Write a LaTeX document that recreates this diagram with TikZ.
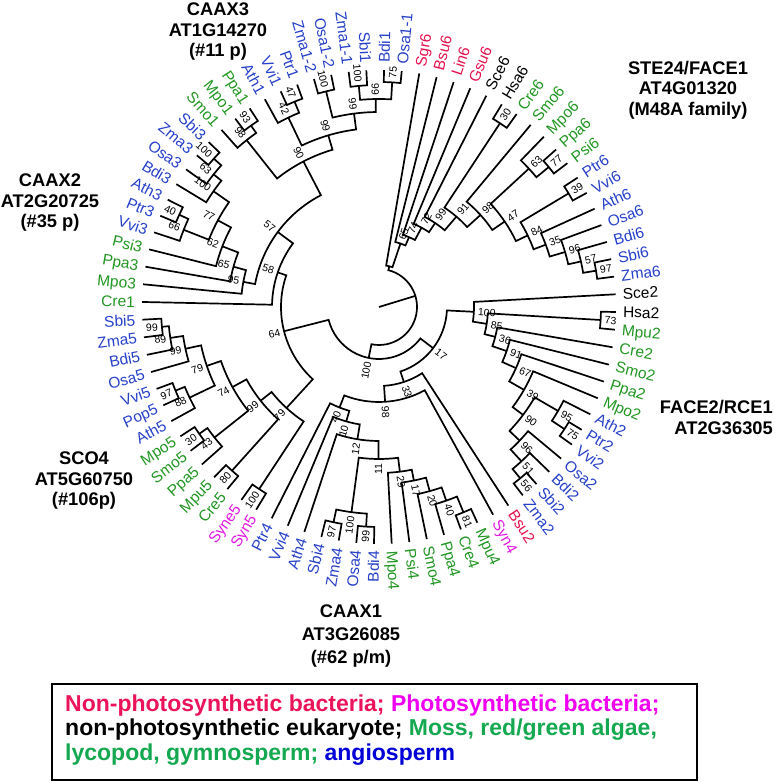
\documentclass[tikz,border=0pt]{standalone}
\usepackage{fontspec}
\setmainfont{Liberation Sans}
\definecolor{lb}{RGB}{38,64,200}
\definecolor{lg}{RGB}{34,150,34}
\definecolor{lr}{RGB}{228,18,78}
\definecolor{lm}{RGB}{225,25,225}
\definecolor{gred}{RGB}{235,20,90}
\definecolor{gmag}{RGB}{240,0,240}
\definecolor{ggreen}{RGB}{20,168,80}
\definecolor{gblue}{RGB}{0,0,215}

\newcommand\mysetang[2]{\pgfmathsetmacro\mytmp{#2}\expandafter\xdef\csname myA@#1\endcsname{\mytmp}}
\newcommand\myang[1]{\csname myA@#1\endcsname}
\newcommand\mysetrad[2]{\expandafter\xdef\csname myR@#1\endcsname{#2}}
\newcommand\myrad[1]{\csname myR@#1\endcsname}

\newcommand\myradlabel[5]{%
  \pgfmathsetmacro\mla{#2}%
  \pgfmathsetmacro\mlm{mod(\mla,360)}%
  \pgfmathsetmacro\mlr{\mla+180}%
  \def\mlside{R}%
  \ifdim\mlm pt>90pt\relax\ifdim\mlm pt<270pt\relax\def\mlside{L}\fi\fi
  \if L\mlside
    \node[#4,anchor=east,rotate=\mlr] (#1) at (\mla:#3pt) {#5};%
  \else
    \node[#4,anchor=west,rotate=\mla] (#1) at (\mla:#3pt) {#5};%
  \fi}

\newcommand\myleaf[3]{%
  \mysetang{#2}{84.5+(#1-1)*4.2857143}%
  \mysetrad{#2}{237}%
  \myradlabel{#2}{\myang{#2}}{244}{leaf,text=#3}{#2}}

\newcommand\mytnode[4]{%
  \pgfmathsetmacro\tnA{\myang{#3}}%
  \pgfmathsetmacro\tnB{\myang{#4}}%
  \edef\tnRa{\myrad{#3}}\edef\tnRb{\myrad{#4}}%
  \draw[br] (\tnA:\tnRa pt) -- (\tnA:#2pt) arc[start angle=\tnA, end angle=\tnB, radius=#2pt] -- (\tnB:\tnRb pt);
  \mysetang{#1}{(\tnA+\tnB)/2}\mysetrad{#1}{#2}}

\newcommand\mybs[2]{%
  \pgfmathsetmacro\bsr{\myrad{#1}+4}%
  \myradlabel{bs-#1}{\myang{#1}}{\bsr}{bsl}{#2}}

\tikzset{
  br/.style={line width=1.7pt, line join=miter, line cap=butt},
  leaf/.style={inner sep=0pt, font=\fontsize{15.5}{16}\selectfont, text height=11pt, text depth=0pt},
  bsl/.style={inner sep=0pt, font=\fontsize{10.5}{11}\selectfont, text height=7.5pt, text depth=0pt},
  ttl/.style={inner sep=0pt, align=center, font=\bfseries\fontsize{18.3}{20.5}\selectfont}
}

\begin{document}
\begin{tikzpicture}
\useasboundingbox (0pt,0pt) rectangle (774pt,783pt);
\begin{scope}[shift={(379pt,476pt)}]
% leaves
\myleaf{1}{Osa1-1}{lb}
\myleaf{2}{Bdi1}{lb}
\myleaf{3}{Sbi1}{lb}
\myleaf{4}{Zma1-1}{lb}
\myleaf{5}{Osa1-2}{lb}
\myleaf{6}{Zma1-2}{lb}
\myleaf{7}{Ptr1}{lb}
\myleaf{8}{Vvi1}{lb}
\myleaf{9}{Ath1}{lb}
\myleaf{10}{Ppa1}{lg}
\myleaf{11}{Mpo1}{lg}
\myleaf{12}{Smo1}{lg}
\myleaf{13}{Sbi3}{lb}
\myleaf{14}{Zma3}{lb}
\myleaf{15}{Osa3}{lb}
\myleaf{16}{Bdi3}{lb}
\myleaf{17}{Ath3}{lb}
\myleaf{18}{Ptr3}{lb}
\myleaf{19}{Vvi3}{lb}
\myleaf{20}{Psi3}{lg}
\myleaf{21}{Ppa3}{lg}
\myleaf{22}{Mpo3}{lg}
\myleaf{23}{Cre1}{lg}
\myleaf{24}{Sbi5}{lb}
\myleaf{25}{Zma5}{lb}
\myleaf{26}{Bdi5}{lb}
\myleaf{27}{Osa5}{lb}
\myleaf{28}{Vvi5}{lb}
\myleaf{29}{Pop5}{lb}
\myleaf{30}{Ath5}{lb}
\myleaf{31}{Mpo5}{lg}
\myleaf{32}{Smo5}{lg}
\myleaf{33}{Ppa5}{lg}
\myleaf{34}{Mpu5}{lg}
\myleaf{35}{Cre5}{lg}
\myleaf{36}{Syne5}{lm}
\myleaf{37}{Syn5}{lm}
\myleaf{38}{Ptr4}{lb}
\myleaf{39}{Vvi4}{lb}
\myleaf{40}{Ath4}{lb}
\myleaf{41}{Sbi4}{lb}
\myleaf{42}{Zma4}{lb}
\myleaf{43}{Osa4}{lb}
\myleaf{44}{Bdi4}{lb}
\myleaf{45}{Mpo4}{lg}
\myleaf{46}{Psi4}{lg}
\myleaf{47}{Smo4}{lg}
\myleaf{48}{Ppa4}{lg}
\myleaf{49}{Cre4}{lg}
\myleaf{50}{Mpu4}{lg}
\myleaf{51}{Syn4}{lm}
\myleaf{52}{Bsu2}{lr}
\myleaf{53}{Zma2}{lb}
\myleaf{54}{Sbi2}{lb}
\myleaf{55}{Bdi2}{lb}
\myleaf{56}{Osa2}{lb}
\myleaf{57}{Vvi2}{lb}
\myleaf{58}{Ptr2}{lb}
\myleaf{59}{Ath2}{lb}
\myleaf{60}{Mpo2}{lg}
\myleaf{61}{Ppa2}{lg}
\myleaf{62}{Smo2}{lg}
\myleaf{63}{Cre2}{lg}
\myleaf{64}{Mpu2}{lg}
\myleaf{65}{Hsa2}{black}
\myleaf{66}{Sce2}{black}
\myleaf{67}{Zma6}{lb}
\myleaf{68}{Sbi6}{lb}
\myleaf{69}{Bdi6}{lb}
\myleaf{70}{Osa6}{lb}
\myleaf{71}{Ath6}{lb}
\myleaf{72}{Vvi6}{lb}
\myleaf{73}{Ptr6}{lb}
\myleaf{74}{Psi6}{lg}
\myleaf{75}{Ppa6}{lg}
\myleaf{76}{Mpo6}{lg}
\myleaf{77}{Smo6}{lg}
\myleaf{78}{Cre6}{lg}
\myleaf{79}{Hsa6}{black}
\myleaf{80}{Sce6}{black}
\myleaf{81}{Gsu6}{lr}
\myleaf{82}{Lin6}{lr}
\myleaf{83}{Bsu6}{lr}
\myleaf{84}{Sgr6}{lr}
% CAAX3
\mytnode{n75a}{225}{Bdi1}{Osa1-1}\mybs{n75a}{75}
\mytnode{n100a}{222}{Sbi1}{Zma1-1}\mybs{n100a}{100}
\mytnode{n99a}{208}{n100a}{n75a}\mybs{n99a}{99}
\mytnode{n100b}{222}{Osa1-2}{Zma1-2}\mybs{n100b}{100}
\mytnode{n99b}{195}{n100b}{n99a}\mybs{n99b}{99}
\mytnode{n47a}{222}{Ptr1}{Vvi1}\mybs{n47a}{47}
\mytnode{n42a}{210}{n47a}{Ath1}\mybs{n42a}{42}
\mytnode{n99c}{179}{n99b}{n42a}\mybs{n99c}{99}
\mytnode{n93a}{222}{Ppa1}{Mpo1}\mybs{n93a}{93}
\mytnode{n98a}{213}{n93a}{Smo1}\mybs{n98a}{98}
\mytnode{n90a}{164}{n99c}{n98a}\mybs{n90a}{90}
% CAAX2
\mytnode{n100c}{222}{Sbi3}{Zma3}\mybs{n100c}{100}
\mytnode{n63a}{212}{n100c}{Osa3}\mybs{n63a}{63}
\mytnode{n100d}{202}{n63a}{Bdi3}\mybs{n100d}{100}
\mytnode{n40a}{220}{Ath3}{Ptr3}\mybs{n40a}{40}
\mytnode{n66a}{210}{n40a}{Vvi3}\mybs{n66a}{66}
\mytnode{n77a}{183}{n100d}{n66a}\mybs{n77a}{77}
\mytnode{n62a}{168}{n77a}{Psi3}\mybs{n62a}{62}
\mytnode{n65a}{151}{n62a}{Ppa3}\mybs{n65a}{65}
\mytnode{n95a}{138}{n65a}{Mpo3}\mybs{n95a}{95}
\mytnode{n57a}{126}{n90a}{n95a}\mybs{n57a}{57}
\mytnode{n58a}{107}{n57a}{Cre1}\mybs{n58a}{58}
% SCO4
\mytnode{n99d}{218}{Sbi5}{Zma5}\mybs{n99d}{99}
\mytnode{n89a}{211}{n99d}{Bdi5}\mybs{n89a}{89}
\mytnode{n99e}{198}{n89a}{Osa5}\mybs{n99e}{99}
\mytnode{n97a}{220}{Vvi5}{Pop5}\mybs{n97a}{97}
\mytnode{n88a}{210}{n97a}{Ath5}\mybs{n88a}{88}
\mytnode{n79a}{182}{n99e}{n88a}\mybs{n79a}{79}
\mytnode{n30a}{220}{Mpo5}{Smo5}\mybs{n30a}{30}
\mytnode{n43a}{210}{n30a}{Ppa5}\mybs{n43a}{43}
\mytnode{n74a}{167}{n79a}{n43a}\mybs{n74a}{74}
\mytnode{n80a}{220}{Mpu5}{Cre5}\mybs{n80a}{80}
\mytnode{n99f}{151}{n74a}{n80a}\mybs{n99f}{99}
\mytnode{n100e}{218}{Syne5}{Syn5}\mybs{n100e}{100}
\mytnode{n79b}{137}{n99f}{n100e}\mybs{n79b}{79}
\mytnode{n64a}{98}{n58a}{n79b}\mybs{n64a}{64}
% CAAX1
\mytnode{n97b}{220}{Sbi4}{Zma4}\mybs{n97b}{97}
\mytnode{n99g}{220}{Osa4}{Bdi4}\mybs{n99g}{99}
\mytnode{n100f}{207}{n97b}{n99g}\mybs{n100f}{100}
\mytnode{n81a}{222}{Cre4}{Mpu4}\mybs{n81a}{81}
\mytnode{n40b}{205}{Ppa4}{n81a}\mybs{n40b}{40}
\mytnode{n20a}{191}{Smo4}{n40b}\mybs{n20a}{20}
\mytnode{n17a}{177}{Psi4}{n20a}\mybs{n17a}{17}
\mytnode{n29a}{166}{Mpo4}{n17a}\mybs{n29a}{29}
\mytnode{n11a}{152}{n100f}{n29a}\mybs{n11a}{11}
\mytnode{n12a}{134}{Ath4}{n11a}\mybs{n12a}{12}
\mytnode{n10a}{119}{Vvi4}{n12a}\mybs{n10a}{10}
\mytnode{n40c}{108}{Ptr4}{n10a}\mybs{n40c}{40}
\mytnode{n98b}{95}{n40c}{Syn4}\mybs{n98b}{98}
\mytnode{n33a}{79}{n98b}{Bsu2}\mybs{n33a}{33}
% FACE2
\mytnode{n56a}{222}{Zma2}{Sbi2}\mybs{n56a}{56}
\mytnode{n51a}{210}{n56a}{Bdi2}\mybs{n51a}{51}
\mytnode{n96a}{194}{n51a}{Osa2}\mybs{n96a}{96}
\mytnode{n75b}{222}{Vvi2}{Ptr2}\mybs{n75b}{75}
\mytnode{n95b}{207}{n75b}{Ath2}\mybs{n95b}{95}
\mytnode{n90b}{180}{n96a}{n95b}\mybs{n90b}{90}
\mytnode{n39a}{167}{n90b}{Mpo2}\mybs{n39a}{39}
\mytnode{n67a}{150}{n39a}{Ppa2}\mybs{n67a}{67}
\mytnode{n91a}{135}{n67a}{Smo2}\mybs{n91a}{91}
\mytnode{n36a}{120}{n91a}{Cre2}\mybs{n36a}{36}
\mytnode{n73a}{222}{Mpu2}{Hsa2}\mybs{n73a}{73}
\mytnode{n85a}{109}{n36a}{n73a}\mybs{n85a}{85}
\mytnode{n100g}{95}{n85a}{Sce2}\mybs{n100g}{100}
\mytnode{n17b}{68}{n33a}{n100g}\mybs{n17b}{17}
\mytnode{n100h}{52}{n64a}{n17b}\mybs{n100h}{100}
% STE24
\mytnode{n97c}{220}{Zma6}{Sbi6}\mybs{n97c}{97}
\mytnode{n57b}{207}{n97c}{Bdi6}\mybs{n57b}{57}
\mytnode{n96b}{194}{n57b}{Osa6}\mybs{n96b}{96}
\mytnode{n35a}{178}{n96b}{Ath6}\mybs{n35a}{35}
\mytnode{n39b}{221}{Vvi6}{Ptr6}\mybs{n39b}{39}
\mytnode{n84a}{165}{n35a}{n39b}\mybs{n84a}{84}
\mytnode{n77b}{220}{Psi6}{Ppa6}\mybs{n77b}{77}
\mytnode{n63b}{204}{n77b}{Mpo6}\mybs{n63b}{63}
\mytnode{n47b}{152}{n84a}{n63b}\mybs{n47b}{47}
\mytnode{n98c}{137}{n47b}{Smo6}\mybs{n98c}{98}
\mytnode{n30b}{220}{Cre6}{Hsa6}\mybs{n30b}{30}
\mytnode{n91b}{119}{n98c}{n30b}\mybs{n91b}{91}
\mytnode{n99h}{101}{n91b}{Sce6}\mybs{n99h}{99}
\mytnode{n72a}{90}{n99h}{Gsu6}\mybs{n72a}{72}
\mytnode{n74b}{76}{n72a}{Lin6}\mybs{n74b}{74}
\mytnode{n65b}{67}{n74b}{Bsu6}\mybs{n65b}{65}
\mytnode{nX}{42}{n65b}{Sgr6}
\mytnode{root}{38}{n100h}{nX}
\coordinate (ctr) at (0pt,0pt);
\draw[br] (ctr) -- (17:38pt);
\end{scope}
% group titles
\node[ttl] (caax3) at (218pt,751pt) {CAAX3\\AT1G14270\\(\#11 p)};
\node[ttl] (ste24) at (688pt,693pt) {STE24/FACE1\\AT4G01320\\(M48A family)};
\node[ttl] (caax2) at (50pt,580pt) {CAAX2\\AT2G20725\\(\#35 p)};
\node[ttl] (sco4) at (84pt,302pt) {SCO4\\AT5G60750\\(\#106p)};
\node[ttl,align=right,anchor=east] (face2) at (773pt,365.5pt) {FACE2/RCE1\\AT2G36305};
\node[ttl,font=\bfseries\fontsize{18.3}{23}\selectfont] (caax1) at (351pt,147pt) {CAAX1\\AT3G26085\\(\#62 p/m)};
% legend
\draw[line width=1.8pt] (52pt,3pt) rectangle (697pt,99pt);
\node[anchor=west,align=left,inner sep=0pt,font=\bfseries\fontsize{23}{24.5}\selectfont] (legend) at (65pt,53pt)
 {\textcolor{gred}{Non-photosynthetic bacteria;} \textcolor{gmag}{Photosynthetic bacteria;}\\
  non-photosynthetic eukaryote; \textcolor{ggreen}{Moss, red/green algae,}\\
  \textcolor{ggreen}{lycopod, gymnosperm;} \textcolor{gblue}{angiosperm}};
\end{tikzpicture}
\end{document}
